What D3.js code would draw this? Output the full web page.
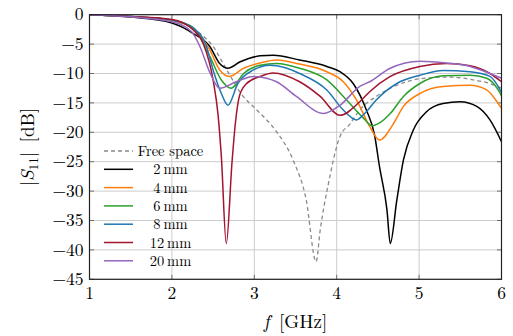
<!DOCTYPE html>
<html>
<head>
<meta charset="utf-8">
<script src="https://cdn.jsdelivr.net/npm/d3@7"></script>
<style>
  body { margin: 0; background: #fff; }
  svg text { font-family: "Latin Modern Roman", "CMU Serif", "Liberation Serif", serif; fill: #000; }
</style>
</head>
<body>
<div id="chart"></div>
<script>
// donnees : [frequence GHz, |S11| dB]
const freeSpace = [[1,0],[1.5,-0.3],[2,-0.9],[2.2,-1.8],[2.35,-3.3],[2.5,-5.4],[2.65,-9],[2.865,-13.9],[3.03,-16.2],[3.27,-19.9],[3.47,-24.7],[3.63,-31.5],[3.75,-42],[3.8,-36.6],[3.9,-28.7],[4.04,-20.7],[4.16,-18.6],[4.28,-16.2],[4.48,-13.9],[4.73,-12],[5.01,-10.9],[5.37,-10.6],[5.7,-11.2],[5.86,-11.7],[6,-12.5]];
const mm2 = [[1,0],[1.5,-0.4],[2,-1.4],[2.26,-3.2],[2.46,-5.4],[2.58,-8.3],[2.68,-9.1],[2.83,-8.0],[3.07,-7.0],[3.23,-6.9],[3.55,-7.7],[3.88,-8.8],[4.04,-9.7],[4.2,-11.7],[4.36,-16.2],[4.46,-20.5],[4.52,-25.9],[4.61,-33.2],[4.65,-38.9],[4.73,-31.5],[4.81,-24.7],[4.93,-19.6],[5.09,-16.5],[5.29,-15.1],[5.5,-14.8],[5.7,-15.6],[5.86,-17.9],[6,-21.6]];
const mm4 = [[1,0],[1.5,-0.3],[2,-1.0],[2.26,-2.4],[2.46,-6.0],[2.58,-9.4],[2.7,-10.5],[2.87,-9.1],[3.07,-8.2],[3.27,-7.7],[3.55,-8.4],[3.88,-9.7],[4.08,-11.4],[4.24,-14.5],[4.4,-19.0],[4.52,-21.3],[4.69,-18.5],[4.81,-15.6],[5.01,-13.4],[5.29,-12.2],[5.62,-12.0],[5.82,-12.8],[5.96,-15.1],[6,-15.9]];
const mm6 = [[1,0],[1.5,-0.3],[2,-0.9],[2.26,-2.2],[2.46,-7.1],[2.6,-11.1],[2.72,-12.5],[2.87,-10.0],[3.07,-8.6],[3.27,-8.3],[3.55,-9.1],[3.88,-11.1],[4.12,-14.5],[4.32,-17.5],[4.43,-18.9],[4.52,-18.4],[4.65,-16.8],[4.81,-13.9],[5.01,-11.7],[5.29,-10.4],[5.62,-10.3],[5.82,-10.8],[5.96,-12.8],[6,-13.8]];
const mm8 = [[1,0],[1.5,-0.3],[2,-0.9],[2.26,-2.3],[2.42,-5.4],[2.5,-9.4],[2.6,-13.4],[2.68,-15.4],[2.8,-11.7],[2.99,-9.4],[3.19,-8.6],[3.27,-8.7],[3.55,-10.0],[3.88,-12.8],[4.08,-16.2],[4.24,-17.9],[4.34,-16.8],[4.48,-14.5],[4.73,-11.7],[5.01,-10.3],[5.29,-9.5],[5.62,-9.7],[5.86,-10.5],[6,-13.2]];
const mm12 = [[1,0],[1.5,-0.3],[2,-0.8],[2.26,-2.6],[2.38,-4.9],[2.5,-11.1],[2.56,-17],[2.6,-24.1],[2.66,-38.9],[2.73,-25],[2.77,-18.5],[2.82,-13.8],[2.9,-11.8],[3.07,-10.5],[3.23,-9.9],[3.55,-11.4],[3.8,-13.9],[4.04,-17.1],[4.28,-14.8],[4.4,-13.1],[4.65,-10.5],[5.01,-8.8],[5.33,-8.3],[5.62,-8.7],[5.86,-10.0],[6,-11.4]];
const mm20 = [[1,0],[1.5,-0.35],[2,-1.2],[2.24,-2.9],[2.34,-5.4],[2.46,-9.8],[2.58,-12.5],[2.78,-11.4],[2.99,-10.5],[3.15,-10.8],[3.27,-11.4],[3.51,-13.9],[3.84,-16.8],[4.04,-15.4],[4.28,-12.2],[4.4,-11.4],[4.65,-9.1],[5.01,-7.9],[5.33,-8.2],[5.62,-8.8],[5.86,-10.0],[6,-10.8]];

const seriesNames = ["Free space", "2\u2009mm", "4\u2009mm", "6\u2009mm", "8\u2009mm", "12\u2009mm", "20\u2009mm"];
const seriesData = [freeSpace, mm2, mm4, mm6, mm8, mm12, mm20];
const seriesColors = ["#8a8a8a", "#000000", "#ff7f0e", "#2ca02c", "#1f77b4", "#a2142f", "#9467bd"];
const xTicks = [1, 2, 3, 4, 5, 6];
const yTicks = [0, -5, -10, -15, -20, -25, -30, -35, -40, -45];

const width = 513, height = 336;
const margin = { top: 14.7, right: 11.5, bottom: 56.7, left: 89.5 };

const svg = d3.select("#chart").append("svg")
  .attr("width", width)
  .attr("height", height);

const x = d3.scaleLinear().domain([1, 6]).range([margin.left, width - margin.right]);
const y = d3.scaleLinear().domain([0, -45]).range([margin.top, height - margin.bottom]);

// grille
svg.append("g").selectAll("line").data(xTicks).join("line")
  .attr("x1", d => x(d)).attr("x2", d => x(d))
  .attr("y1", y(0)).attr("y2", y(-45))
  .attr("stroke", "#cccccc").attr("stroke-width", 1);
svg.append("g").selectAll("line").data(yTicks).join("line")
  .attr("x1", x(1)).attr("x2", x(6))
  .attr("y1", d => y(d)).attr("y2", d => y(d))
  .attr("stroke", "#cccccc").attr("stroke-width", 1);

// petites graduations vers l'interieur, sur les quatre cotes
const tk = 4.5;
const ticksG = svg.append("g").attr("stroke", "#555").attr("stroke-width", 0.8);
xTicks.forEach(d => {
  ticksG.append("line").attr("x1", x(d)).attr("x2", x(d)).attr("y1", y(-45)).attr("y2", y(-45) - tk);
  ticksG.append("line").attr("x1", x(d)).attr("x2", x(d)).attr("y1", y(0)).attr("y2", y(0) + tk);
});
yTicks.forEach(d => {
  ticksG.append("line").attr("x1", x(1)).attr("x2", x(1) + tk).attr("y1", y(d)).attr("y2", y(d));
  ticksG.append("line").attr("x1", x(6)).attr("x2", x(6) - tk).attr("y1", y(d)).attr("y2", y(d));
});

// courbes
const line = d3.line()
  .x(d => x(d[0]))
  .y(d => y(d[1]))
  .curve(d3.curveMonotoneX);

const order = [0, 1, 2, 3, 4, 5, 6];
svg.append("g").selectAll("path").data(order).join("path")
  .attr("d", i => line(seriesData[i]))
  .attr("fill", "none")
  .attr("stroke", i => seriesColors[i])
  .attr("stroke-width", i => i === 0 ? 1.3 : 1.5)
  .attr("stroke-dasharray", i => i === 0 ? "4,3" : null);

// cadre
svg.append("rect")
  .attr("x", x(1)).attr("y", y(0))
  .attr("width", x(6) - x(1)).attr("height", y(-45) - y(0))
  .attr("fill", "none").attr("stroke", "#222").attr("stroke-width", 1.2);

// etiquettes des axes
svg.append("g").selectAll("text").data(xTicks).join("text")
  .attr("x", d => x(d)).attr("y", y(-45) + 20)
  .attr("text-anchor", "middle")
  .style("font-size", "17.5px")
  .text(d => d);
svg.append("g").selectAll("text").data(yTicks).join("text")
  .attr("x", x(1) - 6).attr("y", d => y(d))
  .attr("dy", "0.33em")
  .attr("text-anchor", "end")
  .style("font-size", "17.5px")
  .text(d => d === 0 ? "0" : "\u2212" + Math.abs(d));

const xl = svg.append("text")
  .attr("x", (x(1) + x(6)) / 2).attr("y", 328)
  .attr("text-anchor", "middle")
  .style("font-size", "19px");
xl.append("tspan").style("font-style", "italic").text("f");
xl.append("tspan").text("\u2002[GHz]");

const yl = svg.append("text")
  .attr("transform", "translate(34," + 147 + ") rotate(-90)")
  .attr("text-anchor", "middle")
  .style("font-size", "19px");
yl.append("tspan").text("|");
yl.append("tspan").style("font-style", "italic").text("S");
yl.append("tspan").attr("dy", 4).style("font-size", "13px").text("11");
yl.append("tspan").attr("dy", -4).text("|\u2002[dB]");

// legende
const legend = svg.append("g");
const legY0 = 151, legStep = 18.3;
seriesNames.forEach((name, i) => {
  const ly = legY0 + i * legStep;
  legend.append("line")
    .attr("x1", 104).attr("x2", 133)
    .attr("y1", ly).attr("y2", ly)
    .attr("stroke", seriesColors[i])
    .attr("stroke-width", i === 0 ? 1.3 : 1.5)
    .attr("stroke-dasharray", i === 0 ? "4,3" : null);
  legend.append("text")
    .attr("x", 170.5).attr("y", ly)
    .attr("dy", "0.35em")
    .attr("text-anchor", "middle")
    .style("font-size", "14.5px")
    .text(name);
});
</script>
</body>
</html>
